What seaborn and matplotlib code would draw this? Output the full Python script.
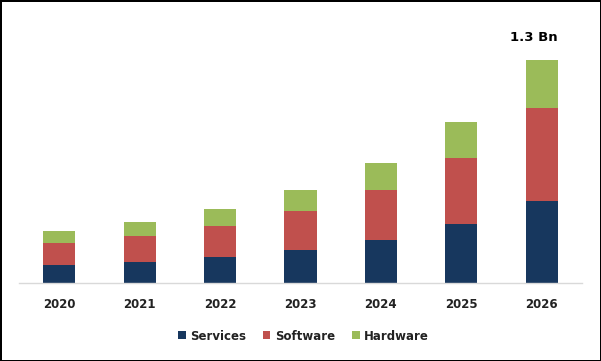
import numpy as np
import matplotlib
matplotlib.use("Agg")
import matplotlib.pyplot as plt
import seaborn as sns
from matplotlib.patches import Patch

sns.set_style("white")

years = ["2020", "2021", "2022", "2023", "2024", "2025", "2026"]
services = [0.105, 0.122, 0.152, 0.192, 0.251, 0.344, 0.478]
software = [0.128, 0.152, 0.181, 0.227, 0.291, 0.385, 0.542]
hardware = [0.070, 0.082, 0.099, 0.122, 0.157, 0.210, 0.280]
segments = ["Services", "Software", "Hardware"]
colors = ["#17375E", "#C0504D", "#9BBB59"]
top_label = "1.3 Bn"

fig = plt.figure(figsize=(6.01, 3.61), dpi=100)
fig.patch.set_edgecolor("black")
fig.patch.set_linewidth(2)
ax = fig.add_axes([19 / 601, 78 / 361, 563 / 601, 263 / 361])

bottom = np.zeros(len(years))
for name, vals, col in zip(segments, [services, software, hardware], colors):
    sns.barplot(x=years, y=vals, bottom=bottom.copy(), color=col, width=0.4,
                saturation=1, linewidth=0, edgecolor="none", ax=ax, order=years)
    bottom += np.array(vals)

# total label above the last bar
ax.text(len(years) - 1 - 0.1, bottom[-1] + 0.13, top_label, ha="center", va="center",
        fontsize=9.5, fontweight="bold", color="black")

ax.set_xlim(-0.5, len(years) - 0.5)
ax.set_ylim(0, 1.3 * 263 / 223)
ax.set_yticks([])
ax.set_xlabel("")
ax.set_ylabel("")
for s in ["left", "right", "top"]:
    ax.spines[s].set_visible(False)
ax.spines["bottom"].set_color("#D9D9D9")
ax.spines["bottom"].set_linewidth(1)
ax.tick_params(axis="x", length=0, pad=11)
for lbl in ax.get_xticklabels():
    lbl.set_fontsize(8.5)
    lbl.set_fontweight("bold")
    lbl.set_color("#222222")

handles = [Patch(facecolor=c, edgecolor="none", label=n) for n, c in zip(segments, colors)]
leg = fig.legend(handles=handles, loc="center", bbox_to_anchor=(0.505, 1 - 336 / 361),
                 ncol=3, frameon=False, handlelength=0.65, handleheight=0.65,
                 handletextpad=0.4, columnspacing=1.4,
                 prop={"size": 8.5, "weight": "bold"})
for t in leg.get_texts():
    t.set_color("#222222")

fig.savefig("out.png", dpi=100)
